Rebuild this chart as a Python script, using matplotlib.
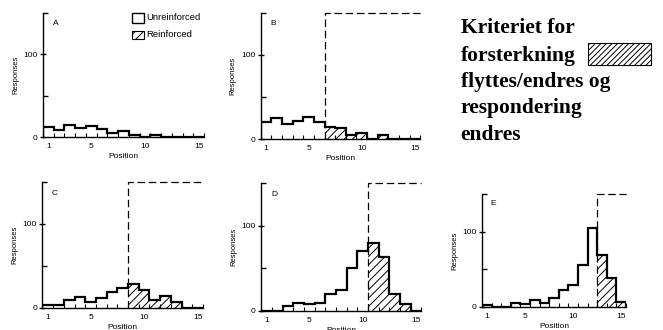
import numpy as np
import matplotlib
matplotlib.use("Agg")
import matplotlib.pyplot as plt
from matplotlib.patches import Rectangle

plt.rcParams["font.family"] = ["Liberation Sans", "DejaVu Sans"]
plt.rcParams["font.size"] = 6
plt.rcParams["hatch.linewidth"] = 0.7

# Response counts per position (1..15) for each stage
positions = np.arange(1, 16)
edges = np.arange(0.5, 16.0, 1.0)
a_counts = [12, 8, 15, 11, 13, 10, 5, 7, 2, 0, 2, 0, 0, 0, 0]
b_counts = [21, 25, 18, 22, 27, 21, 15, 13, 5, 8, 0, 5, 0, 0, 0]
c_counts = [4, 4, 9, 13, 7, 12, 19, 24, 29, 21, 10, 14, 7, 0, 0]
d_counts = [0, 0, 6, 9, 8, 9, 20, 25, 50, 70, 80, 64, 20, 8, 0]
e_counts = [2, 0, 0, 5, 4, 9, 5, 12, 22, 29, 56, 105, 69, 39, 6]

# reinforcement criterion (boundary between positions), None = no criterion
criteria = {"A": None, "B": 6.5, "C": 8.5, "D": 10.5, "E": 12.5}
panel_counts = {"A": a_counts, "B": b_counts, "C": c_counts, "D": d_counts, "E": e_counts}

# axes rectangles in figure fractions
rects = {
    "A": [0.0649, 0.5848, 0.2428, 0.3758],
    "B": [0.3932, 0.5779, 0.2407, 0.3836],
    "C": [0.0640, 0.0667, 0.2421, 0.3818],
    "D": [0.3941, 0.0576, 0.2413, 0.3864],
    "E": [0.7270, 0.0697, 0.2172, 0.3424],
}

fig = plt.figure(figsize=(6.63, 3.30), dpi=100)


def draw_panel(ax, letter):
    counts = np.array(panel_counts[letter])
    crit = criteria[letter]
    ax.set_xlim(0.5, 15.5)
    ax.set_ylim(0, 150)
    for s in ("top", "right"):
        ax.spines[s].set_visible(False)
    for s in ("left", "bottom"):
        ax.spines[s].set_linewidth(1.0)

    if crit is not None:
        i0 = int(crit - 0.5)
        ax.stairs(counts[i0:], edges[i0:], baseline=0, fill=True, hatch="////",
                  facecolor="white", edgecolor="black", linewidth=0)
        ax.plot([crit, crit, 15.5], [0, 150, 150], color="black", lw=0.9,
                dashes=(6, 3), clip_on=False)
    ax.stairs(counts, edges, baseline=0, color="black", lw=1.6)

    ax.set_xticks([1, 5, 10, 15])
    ax.set_xticks(edges, minor=True)
    ax.tick_params(axis="x", which="major", length=0, pad=4)
    ax.tick_params(axis="x", which="minor", direction="in", length=3, width=0.8)
    ax.set_yticks([0, 100])
    ax.set_yticks([50, 150], minor=True)
    ax.tick_params(axis="y", which="major", direction="inout", length=5, width=1.0, pad=1.5)
    ax.tick_params(axis="y", which="minor", direction="in", length=3.5, width=1.0)
    ax.set_xlabel("Position", labelpad=2.5)
    ax.set_ylabel("Responses", fontsize=5.5, labelpad=3)
    ax.text(0.06, 0.9, letter, transform=ax.transAxes, fontsize=6)


for letter in ["A", "B", "C", "D", "E"]:
    ax = fig.add_axes(rects[letter])
    draw_panel(ax, letter)
    if letter == "A":
        ax.add_patch(Rectangle((0.553, 0.919), 0.074, 0.081, transform=ax.transAxes,
                               facecolor="white", edgecolor="black", lw=1.0, clip_on=False))
        ax.add_patch(Rectangle((0.553, 0.79), 0.074, 0.065, transform=ax.transAxes,
                               facecolor="white", edgecolor="black", lw=0.8,
                               hatch="////", clip_on=False))
        ax.text(0.64, 0.96, "Unreinforced", transform=ax.transAxes, va="center", fontsize=6.8)
        ax.text(0.64, 0.823, "Reinforced", transform=ax.transAxes, va="center", fontsize=6.8)

# explanatory text on the right
title_lines = ["Kriteriet for", "forsterkning", "flyttes/endres og", "respondering", "endres"]
baselines_px = [32.7, 60.5, 87.3, 113.1, 139.9]
for line, ypx in zip(title_lines, baselines_px):
    fig.text(460.7 / 663, 1 - ypx / 330, line, family="Liberation Serif",
             fontweight="bold", fontsize=15.5, va="baseline", ha="left")
fig.patches.append(Rectangle((588 / 663, (330 - 65) / 330), 63 / 663, 22 / 330,
                             transform=fig.transFigure, facecolor="white",
                             edgecolor="black", lw=0.8, hatch="//////"))

fig.savefig("out.png", dpi=100)
